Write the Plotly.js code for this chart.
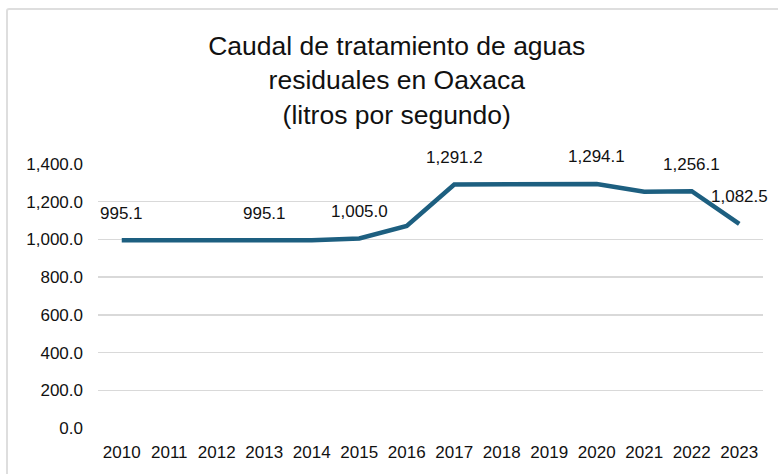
<!DOCTYPE html>
<html>
<head>
<meta charset="utf-8">
<script src="https://cdn.plot.ly/plotly-3.0.1.min.js"></script>
<style>
  html, body { margin: 0; padding: 0; background: #ffffff; overflow: hidden; }
  #frame { position: absolute; left: 6px; top: 8px; width: 800px; height: 500px;
           border: 2px solid #dedede; border-radius: 3px; box-sizing: border-box; }
  #chart { position: absolute; left: 0; top: 0; width: 778px; height: 474px; }
</style>
</head>
<body>
<div id="frame"></div>
<div id="chart"></div>
<script>
const years = ["2010","2011","2012","2013","2014","2015","2016","2017","2018","2019","2020","2021","2022","2023"];
const caudal = [995.1, 995.1, 995.1, 995.1, 995.1, 1005.0, 1071.0, 1291.2, 1291.5, 1293.0, 1294.1, 1253.0, 1256.1, 1082.5];
const labeledYears = ["2010","2013","2015","2017","2020","2022","2023"];
const yTicks = [0, 200, 400, 600, 800, 1000, 1200, 1400];

const fmt = v => v.toLocaleString('en-US', {minimumFractionDigits: 1, maximumFractionDigits: 1});
const font = "Liberation Sans, Arial, sans-serif";

const annotations = years.map((yr, i) => ({yr, i, v: caudal[i]}))
  .filter(d => labeledYears.includes(d.yr))
  .map(d => ({
    x: d.i, y: d.v, xref: 'x', yref: 'y',
    text: fmt(d.v), showarrow: false,
    yanchor: 'middle', xanchor: 'center', yshift: 27,
    font: {family: font, size: 17, color: '#111111'}
  }));

const trace = {
  x: years, y: caudal, type: 'scatter', mode: 'lines',
  line: {color: '#1d5f80', width: 4.5},
  hoverinfo: 'skip'
};

const layout = {
  width: 778, height: 474,
  paper_bgcolor: 'rgba(0,0,0,0)', plot_bgcolor: 'rgba(0,0,0,0)',
  margin: {l: 98, r: 15, t: 164, b: 46},
  showlegend: false,
  title: {
    text: 'Caudal de tratamiento de aguas<br>residuales en Oaxaca<br>(litros por segundo)',
    font: {family: font, size: 26.5, color: '#111111'},
    xref: 'container', yref: 'container', x: 0.51, xanchor: 'center',
    y: 1 - 55/474, yanchor: 'top'
  },
  xaxis: {
    type: 'category', range: [-0.5, 13.5],
    showgrid: false, zeroline: false, showline: false, ticks: '',
    ticklabelstandoff: 12,
    tickfont: {family: font, size: 17, color: '#111111'}
  },
  yaxis: {
    range: [0, 1400], tickvals: yTicks, tickformat: ',.1f',
    showgrid: true, gridcolor: '#d9d9d9', gridwidth: 1.5,
    zeroline: false, showline: false, ticks: '',
    ticklabelstandoff: 14,
    tickfont: {family: font, size: 17, color: '#111111'}
  },
  annotations: annotations
};

Plotly.newPlot('chart', [trace], layout, {staticPlot: true, displayModeBar: false});
</script>
</body>
</html>
